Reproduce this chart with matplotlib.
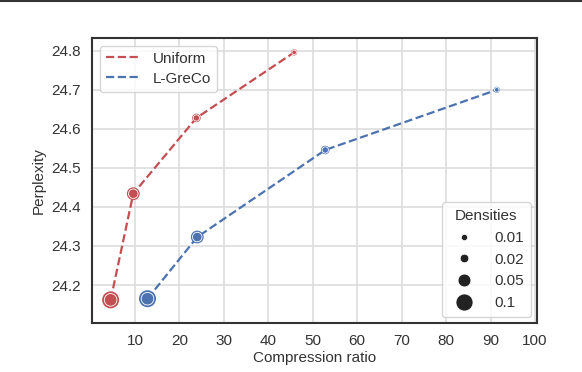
import matplotlib
matplotlib.use("Agg")
import matplotlib.pyplot as plt
from matplotlib.lines import Line2D
import seaborn as sns

sns.set_theme(style="whitegrid")
plt.rcParams['font.family'] = ['Liberation Sans', 'DejaVu Sans']

# --- data ---
uniform_ratio = [4.5, 9.6, 23.8, 45.8]
uniform_ppl = [24.162, 24.434, 24.628, 24.796]
greco_ratio = [12.8, 24.0, 52.8, 91.4]
greco_ppl = [24.165, 24.323, 24.546, 24.700]
densities = [0.1, 0.05, 0.02, 0.01]
density_levels = [0.01, 0.02, 0.05, 0.1]
size_map = {0.01: 20, 0.02: 38, 0.05: 85, 0.1: 150}

red = "#C44E52"
blue = "#4C72B0"

fig, ax = plt.subplots(figsize=(5.82, 3.72), dpi=100)
fig.subplots_adjust(left=0.158, right=0.923, top=0.898, bottom=0.132)


def draw(xs, ys, color, label):
    ax.plot(xs, ys, ls="--", color=color, lw=1.6, label=label, zorder=2)
    s = [size_map[d] for d in densities]
    ax.scatter(xs, ys, s=s, color=color, edgecolor="none", zorder=3)
    ax.scatter(xs, ys, s=[v * 0.55 for v in s], color=color,
               edgecolor="white", linewidth=0.6, zorder=4)


draw(uniform_ratio, uniform_ppl, red, "Uniform")
draw(greco_ratio, greco_ppl, blue, "L-GreCo")

ax.set_xlim(0.3, 100.5)
ax.set_ylim(24.103, 24.833)
ax.set_xticks([10, 20, 30, 40, 50, 60, 70, 80, 90, 100])
ax.set_yticks([24.2, 24.3, 24.4, 24.5, 24.6, 24.7, 24.8])
ax.set_xlabel("Compression ratio", fontsize=11, labelpad=2, color="#333333")
ax.set_ylabel("Perplexity", fontsize=11, labelpad=4, color="#333333")
ax.tick_params(labelsize=11, pad=2, labelcolor="#333333")
ax.grid(color="#dddddd", lw=1.2)
for sp in ax.spines.values():
    sp.set_color("#333333")
    sp.set_linewidth(1.5)

leg1 = ax.legend(loc="upper left", fontsize=11, handlelength=2.3,
                 borderpad=0.4, labelspacing=0.4, frameon=True)
for t in leg1.get_texts():
    t.set_color("#333333")
ax.add_artist(leg1)

handles = []
for d in density_levels:
    h = Line2D([], [], ls="none", marker="o", color="#222222",
               markersize=(size_map[d]) ** 0.5, markeredgecolor="white",
               markeredgewidth=0.5)
    handles.append(h)
leg2 = ax.legend(handles, [str(d) for d in density_levels], title="Densities",
                 loc="lower right", fontsize=11, title_fontsize=11,
                 borderpad=0.45, labelspacing=0.5, handletextpad=1.0,
                 borderaxespad=0.4, frameon=True)
for t in leg2.get_texts():
    t.set_color("#333333")
leg2.get_title().set_color("#333333")

fig.add_artist(Line2D([0, 1], [0.998, 0.998], transform=fig.transFigure,
                      color="#333333", lw=1.5))

fig.savefig("out.png", dpi=100)
